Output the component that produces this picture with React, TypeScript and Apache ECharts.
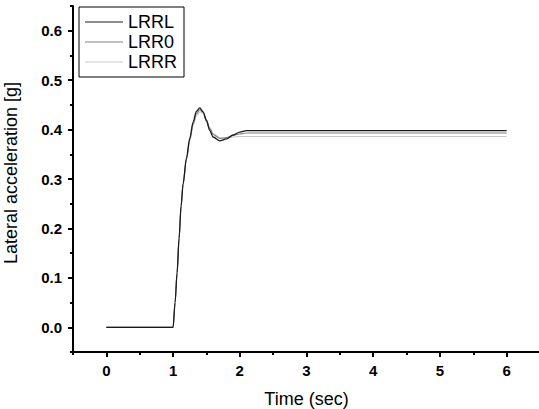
import React, { useEffect, useRef } from "react";
import * as echarts from "echarts";

const TIME = [0, 1.0, 1.03, 1.06, 1.09, 1.12, 1.15, 1.2, 1.25, 1.3, 1.35, 1.4, 1.45, 1.5, 1.55, 1.6, 1.7, 1.8, 1.9, 2.0, 2.1, 2.2, 2.3, 6.0];
const LRRL = [0, 0, 0.05, 0.11, 0.18, 0.245, 0.29, 0.342, 0.382, 0.415, 0.437, 0.444, 0.436, 0.418, 0.398, 0.385, 0.377, 0.381, 0.389, 0.395, 0.398, 0.398, 0.398, 0.398];
const LRR0 = [0, 0, 0.05, 0.11, 0.18, 0.245, 0.29, 0.34, 0.379, 0.411, 0.432, 0.44, 0.435, 0.42, 0.402, 0.39, 0.382, 0.384, 0.388, 0.391, 0.393, 0.393, 0.393, 0.393];
const LRRR = [0, 0, 0.05, 0.11, 0.18, 0.245, 0.29, 0.338, 0.376, 0.407, 0.428, 0.436, 0.433, 0.42, 0.404, 0.392, 0.383, 0.383, 0.385, 0.386, 0.386, 0.386, 0.386, 0.386];

const SERIES_NAMES = ["LRRL", "LRR0", "LRRR"];
const SERIES_VALUES = [LRRL, LRR0, LRRR];
const SERIES_COLORS = ["#1a1a1a", "#808080", "#c8c8c8"];

const X_TICKS = [0, 1, 2, 3, 4, 5, 6];
const X_MINOR = [-0.5, 0.5, 1.5, 2.5, 3.5, 4.5, 5.5, 6.5];
const Y_TICKS = [0, 0.1, 0.2, 0.3, 0.4, 0.5, 0.6];
const Y_MINOR = [-0.05, 0.05, 0.15, 0.25, 0.35, 0.45, 0.55, 0.65];

const FONT = "'Liberation Sans', Arial, sans-serif";

export default function App() {
  const ref = useRef<HTMLDivElement>(null);
  useEffect(() => {
    if (!ref.current) return;
    const chart = echarts.init(ref.current, null, { renderer: "svg" });
    const axisLine = { show: true, onZero: false, lineStyle: { color: "#000", width: 2 } };
    chart.setOption({
      animation: false,
      backgroundColor: "#fff",
      textStyle: { fontFamily: FONT },
      grid: { left: 73, top: 6, width: 467, height: 346, containLabel: false, outerBoundsMode: "none" },
      legend: {
        left: 79,
        top: 7,
        orient: "vertical",
        icon: "rect",
        itemWidth: 38,
        itemHeight: 1.2,
        itemGap: 0,
        padding: [5, 7, 5, 6],
        borderColor: "#000",
        borderWidth: 1,
        borderRadius: 0,
        backgroundColor: "#fff",
        textStyle: { fontSize: 18, color: "#000", fontFamily: FONT, lineHeight: 20 },
        data: SERIES_NAMES,
      },
      xAxis: [
        {
          type: "value",
          min: -0.5,
          max: 6.5,
          name: "Time (sec)",
          nameLocation: "middle",
          nameGap: 38,
          nameTextStyle: { fontSize: 18, color: "#000", fontFamily: FONT },
          axisLine,
          axisTick: { show: true, inside: false, length: 5, customValues: X_TICKS, lineStyle: { color: "#000", width: 2 } },
          axisLabel: {
            customValues: X_TICKS,
            fontSize: 15,
            fontWeight: "bold",
            color: "#000",
            margin: 11,
            fontFamily: FONT,
          },
          splitLine: { show: false },
        },
        {
          type: "value",
          min: -0.5,
          max: 6.5,
          position: "bottom",
          axisLine: { show: false, onZero: false },
          axisTick: { show: true, length: 3, customValues: X_MINOR, lineStyle: { color: "#000", width: 2 } },
          axisLabel: { show: false },
          splitLine: { show: false },
        },
      ],
      yAxis: [
        {
          type: "value",
          min: -0.05,
          max: 0.65,
          name: "Lateral acceleration [g]",
          nameLocation: "middle",
          nameGap: 53,
          nameTextStyle: { fontSize: 18, color: "#000", fontFamily: FONT, padding: [0, 0, 0, 12] },
          axisLine,
          axisTick: { show: true, length: 5, customValues: Y_TICKS, lineStyle: { color: "#000", width: 2 } },
          axisLabel: {
            customValues: Y_TICKS,
            formatter: (v: number) => v.toFixed(1),
            fontSize: 15,
            fontWeight: "bold",
            color: "#000",
            margin: 11,
            fontFamily: FONT,
          },
          splitLine: { show: false },
        },
        {
          type: "value",
          min: -0.05,
          max: 0.65,
          position: "left",
          axisLine: { show: false, onZero: false },
          axisTick: { show: true, length: 3, customValues: Y_MINOR, lineStyle: { color: "#000", width: 2 } },
          axisLabel: { show: false },
          splitLine: { show: false },
        },
      ],
      series: SERIES_NAMES.map((name, i) => ({
        name,
        type: "line",
        xAxisIndex: 0,
        yAxisIndex: 0,
        data: TIME.map((t, j) => [t, SERIES_VALUES[i][j]]),
        symbol: "none",
        smooth: 0.3,
        smoothMonotone: "x",
        color: SERIES_COLORS[i],
        itemStyle: { color: SERIES_COLORS[i] },
        lineStyle: { color: SERIES_COLORS[i], width: i === 0 ? 1.3 : 1.1 },
        z: 3 - i,
      })),
    });
    return () => chart.dispose();
  }, []);
  return (
    <div
      ref={ref}
      style={{ position: "absolute", left: 0, top: 0, width: 539, height: 409 }}
    />
  );
}
